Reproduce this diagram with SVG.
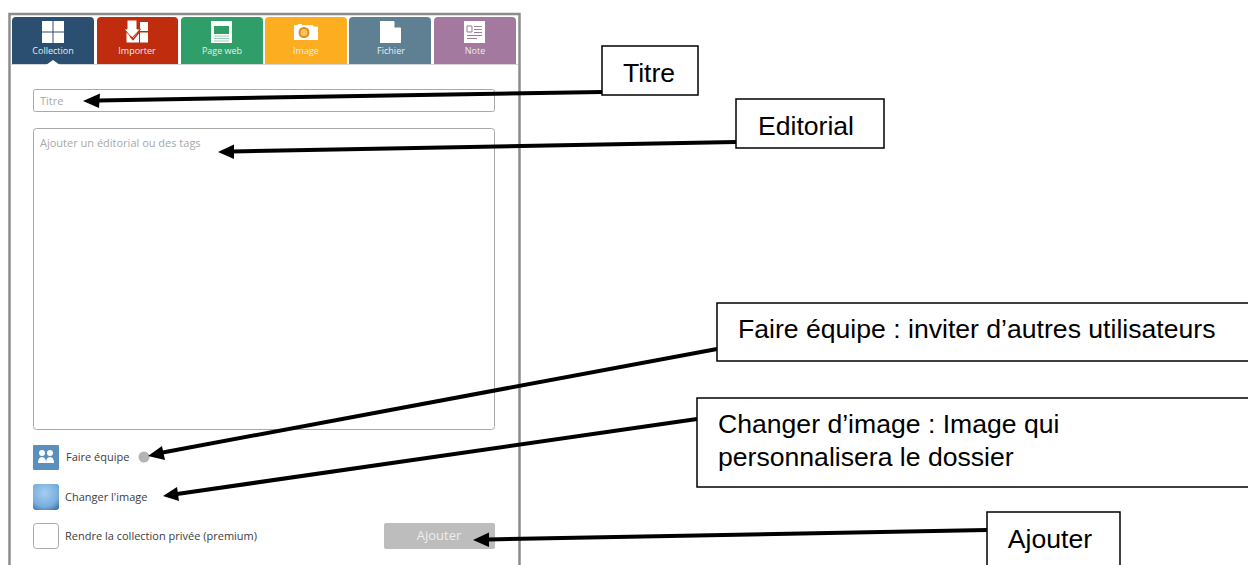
<svg xmlns="http://www.w3.org/2000/svg" width="1248" height="565" viewBox="0 0 1248 565">
<defs>
<radialGradient id="g" cx=".45" cy=".35" r=".8"><stop offset="0" stop-color="#a6cdef"/><stop offset=".65" stop-color="#78aede"/><stop offset="1" stop-color="#3a6ea0"/></radialGradient>
</defs>
<style>
text{font-family:"Open Sans","Noto Sans",sans-serif}
.tab{font-size:9px;fill:#e8eef2;text-anchor:middle}
.lab{font-size:11px;fill:#3c3c3c}
.ph{font-size:11px;fill:#a8a8a8}
.box{fill:#fff;stroke:#000;stroke-width:1.5}
.call{font-family:"Liberation Sans",Arial,sans-serif;font-size:26.6px;fill:#000}
.ln{stroke:#000;stroke-width:4;fill:none}
.hd{fill:#000}
.w{fill:#fff}
.field{fill:#fff;stroke:#a9a9a9;stroke-width:1}
</style>
<rect width="1248" height="565" fill="#fff"/>
<g id="panel">
<path d="M9.500 565V14H519.500V565" fill="#fff" stroke="#8c8c8c" stroke-width="2.500"/>
<path d="M10.500 64.500H518" stroke="#d5d5d5" fill="none"/>
</g>
<g id="tab-collection">
<path d="M12 64V21q0-4 4-4H90q4 0 4 4V64Z" fill="#2a4f70"/>
<rect x="42" y="21" width="10.500" height="10.500" class="w"/><rect x="53.500" y="21" width="10.500" height="10.500" class="w"/><rect x="42" y="32.500" width="10.500" height="10.500" class="w"/><rect x="53.500" y="32.500" width="10.500" height="10.500" class="w"/>
<text x="53" y="54" class="tab">Collection</text>
<path d="M46 65L53 60L60 65Z" class="w"/>
</g>
<g id="tab-importer">
<path d="M97 64V21q0-4 4-4H174q4 0 4 4V64Z" fill="#bf2c0e"/>
<rect x="140" y="22" width="8" height="9" class="w"/><rect x="140" y="32.500" width="8" height="10" class="w"/><rect x="126.500" y="32.500" width="12.500" height="10" class="w"/>
<path d="M127 20H137V29H140.500L132 38L124 29H127Z" class="w" stroke="#bf2c0e" stroke-width="1"/>
<path d="M130 36L133 39.500L140 31" fill="none" stroke="#bf2c0e" stroke-width="1.500"/>
<text x="137" y="54" class="tab">Importer</text>
</g>
<g id="tab-page-web">
<path d="M181 64V21q0-4 4-4H259q4 0 4 4V64Z" fill="#2f9e69"/>
<rect x="211" y="21" width="21" height="22" class="w"/><rect x="214" y="26" width="15" height="8" fill="#2f9e69"/><path d="M214 36H229M214 38.500H229M214 41H229" stroke="#7cc3a0" stroke-width=".8"/>
<text x="222" y="54" class="tab">Page web</text>
</g>
<g id="tab-image">
<path d="M265 64V21q0-4 4-4H343q4 0 4 4V64Z" fill="#fdad20"/>
<path d="M294 25H298V24H302V25H318V40H294Z" class="w"/><circle cx="304" cy="32.500" r="4.500" fill="#f6c560" stroke="#e08a1a" stroke-width="2"/><rect x="313" y="24.500" width="5" height="2" fill="#fdad20"/>
<text x="306" y="54" class="tab">Image</text>
</g>
<g id="tab-fichier">
<path d="M349 64V21q0-4 4-4H427q4 0 4 4V64Z" fill="#5f7f93"/>
<path d="M380 21H394L401 28V43H380Z" class="w"/><path d="M394.500 21L401 27.500H394.500Z" fill="#5f7f93"/>
<text x="391" y="54" class="tab">Fichier</text>
</g>
<g id="tab-note">
<path d="M434 64V21q0-4 4-4H512q4 0 4 4V64Z" fill="#a3799f"/>
<rect x="464" y="21" width="21" height="22" class="w"/>
<path d="M467 26H472V32H467ZM474 26.500H482M474 29.500H482M474 32.500H482M467 35.500H482M467 38.500H477" stroke="#a3799f" fill="none"/>
<text x="475" y="54" class="tab">Note</text>
</g>
<g id="field-titre">
<rect x="33.500" y="89.500" width="461" height="22" rx="2" class="field"/>
<text x="40" y="105" class="ph">Titre</text>
</g>
<g id="field-editorial">
<rect x="33.500" y="128.500" width="461" height="301" rx="3" class="field"/>
<text x="40" y="147" class="ph">Ajouter un éditorial ou des tags</text>
</g>
<g id="faire-equipe">
<rect x="33" y="445" width="26" height="25" rx="1" fill="#5b8fbd"/>
<circle cx="42" cy="453" r="3" class="w"/><circle cx="50" cy="453" r="3" class="w"/><path d="M38 463q0-6 4-6t4 6ZM46 463q0-6 4-6t4 6Z" class="w"/>
<text x="66" y="461" class="lab">Faire équipe</text>
<circle cx="144" cy="457" r="5.500" fill="#b4b4b4"/>
</g>
<g id="changer-image">
<rect x="33" y="484" width="26" height="26" rx="3" fill="url(#g)"/>
<text x="65" y="501" class="lab">Changer l'image</text>
</g>
<g id="collection-privee">
<rect x="33.500" y="523.500" width="25" height="25" rx="3" fill="#fff" stroke="#a9a9a9"/>
<text x="65" y="540" class="lab">Rendre la collection privée (premium)</text>
</g>
<g id="btn-ajouter">
<rect x="384" y="523" width="111" height="26" rx="2" fill="#bdbdbd"/>
<text x="439" y="540" font-size="13" fill="#eee" text-anchor="middle">Ajouter</text>
</g>
<g id="connectors">
<path class="ln" d="M602 92L98 100.500"/><path class="hd" d="M83 101L100 93.500L99 108Z"/>
<path class="ln" d="M736 142L232 151.500"/><path class="hd" d="M218 152L234 144.500L234 159Z"/>
<path class="ln" d="M717 349L160 453"/><path class="hd" d="M148 456L162 446L165 460Z"/>
<path class="ln" d="M697 419L177 494"/><path class="hd" d="M163 496L177 487L179 501Z"/>
<path class="ln" d="M987 530L488 539.500"/><path class="hd" d="M473 540L489 532.500L489 547Z"/>
</g>
<g id="note-titre"><rect x="602" y="46" width="96" height="49" class="box"/><text x="649" y="81.500" class="call" text-anchor="middle">Titre</text></g>
<g id="note-editorial"><rect x="736" y="99" width="148" height="49" class="box"/><text x="806" y="134.500" class="call" text-anchor="middle">Editorial</text></g>
<g id="note-equipe"><rect x="717" y="303" width="540" height="58" class="box"/><text x="738" y="338" class="call">Faire équipe : inviter d’autres utilisateurs</text></g>
<g id="note-image"><rect x="697" y="398" width="560" height="89" class="box"/><text x="718" y="433" class="call">Changer d’image : Image qui</text><text x="718" y="466" class="call">personnalisera le dossier</text></g>
<g id="note-ajouter"><rect x="987" y="512" width="133" height="60" class="box"/><text x="1050" y="548" class="call" text-anchor="middle">Ajouter</text></g>
</svg>
